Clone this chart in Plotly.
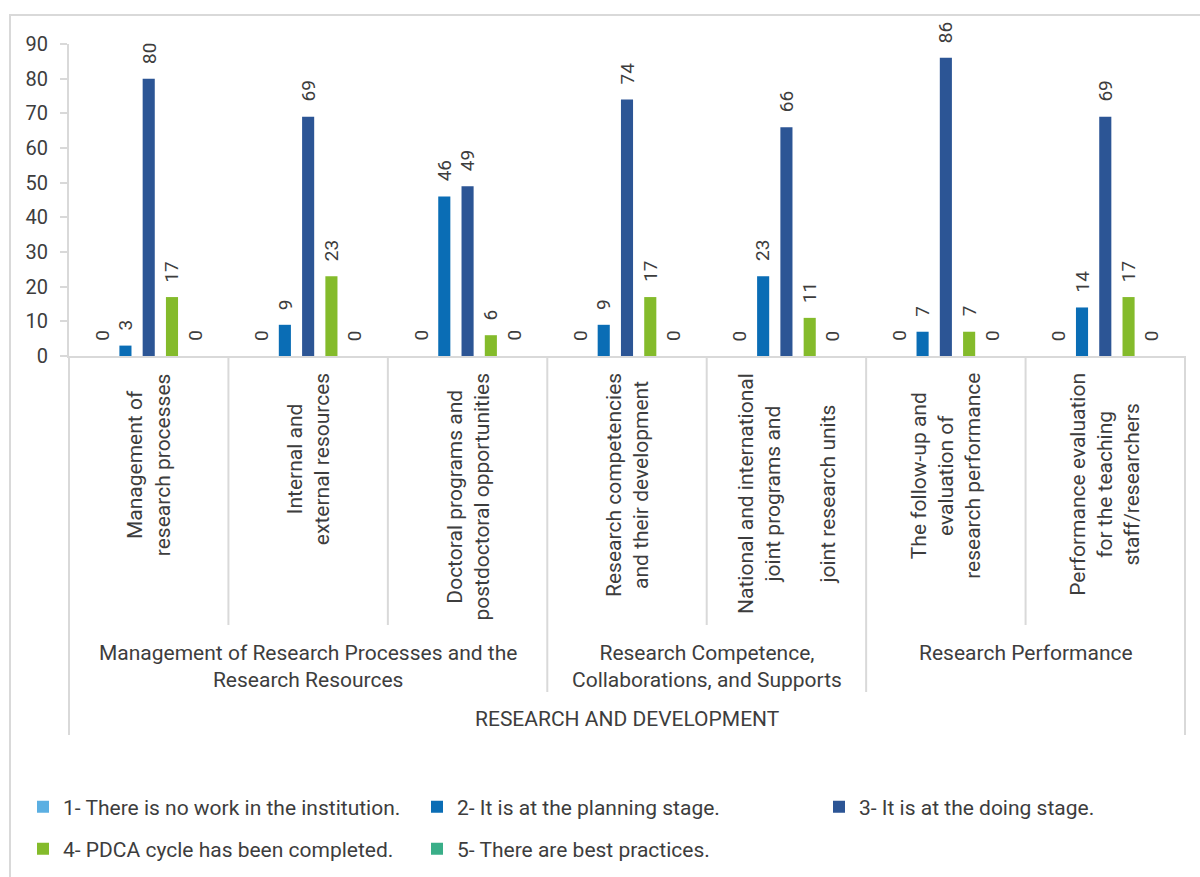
import plotly.graph_objects as go

# ---- data -------------------------------------------------------------
subcategories = [
    "Management of<br>research processes",
    "Internal and<br>external resources",
    "Doctoral programs and<br>postdoctoral opportunities",
    "Research competencies<br>and their development",
    "National and international<br>joint programs and<br><br>joint research units",
    "The follow-up and<br>evaluation of<br>research performance",
    "Performance evaluation<br>for the teaching<br>staff/researchers",
]
groups = [
    "Management of Research Processes and the<br>Research Resources",
    "Research Competence,<br>Collaborations, and Supports",
    "Research Performance",
]
group_sizes = [3, 2, 2]
top_label = "RESEARCH AND DEVELOPMENT"

series_names = [
    "1- There is no work in the institution.",
    "2- It is at the planning stage.",
    "3- It is at the doing stage.",
    "4- PDCA cycle has been completed.",
    "5- There are best practices.",
]
no_work = [0, 0, 0, 0, 0, 0, 0]
planning = [3, 9, 46, 9, 23, 7, 14]
doing = [80, 69, 49, 74, 66, 86, 69]
pdca_done = [17, 23, 6, 17, 11, 7, 17]
best_practices = [0, 0, 0, 0, 0, 0, 0]
series_values = [no_work, planning, doing, pdca_done, best_practices]
colors = ["#5BAFE2", "#0A6DB5", "#2C5595", "#84BB2B", "#39AE88"]

y_ticks = [0, 10, 20, 30, 40, 50, 60, 70, 80, 90]

# ---- layout geometry ---------------------------------------------------
W, H = 1200, 877
L, R, T, B = 69, 15, 44, 521
PW, PH = W - L - R, H - T - B
BASE = H - B


def fx(p):
    return (p - L) / PW


def fy(p):
    return (BASE - p) / PH


FONT = "Roboto"
TXT = "#3d3d3d"
GRID = "#d9d9d9"
BARGAP = 0.27
n_series = len(series_values)
slot = (1 - BARGAP) / n_series
xs = list(range(len(subcategories)))

fig = go.Figure()
legend_ids = ["legend", "legend2", "legend3", "legend4", "legend5"]
for k, (name, vals, col) in enumerate(zip(series_names, series_values, colors)):
    fig.add_trace(go.Bar(
        x=xs, y=vals, name=name, marker_color=col,
        marker_line_width=0, legend=legend_ids[k],
    ))

annotations = []
# value labels above each bar
for k, vals in enumerate(series_values):
    for i, v in enumerate(vals):
        annotations.append(dict(
            x=i + (k - (n_series - 1) / 2) * slot, xref="x",
            y=v, yref="y", yanchor="bottom", xanchor="center",
            yshift=13, text=str(v), textangle=-90, showarrow=False,
            font=dict(family=FONT, size=19, color=TXT),
        ))

# first-level category labels (rotated)
for i, lab in enumerate(subcategories):
    annotations.append(dict(
        x=i, xref="x", y=fy(371), yref="paper", xanchor="center",
        yanchor="top", text=lab, textangle=-90, showarrow=False,
        align="center", font=dict(family=FONT, size=21, color=TXT),
    ))

# second-level group labels
start = 0
for g, size in zip(groups, group_sizes):
    annotations.append(dict(
        x=start + (size - 1) / 2, xref="x", y=fy(639), yref="paper",
        xanchor="center", yanchor="top", text=g, showarrow=False,
        align="center", font=dict(family=FONT, size=21, color=TXT),
    ))
    start += size

# top-level label
annotations.append(dict(
    x=(len(subcategories) - 1) / 2, xref="x", y=fy(719), yref="paper",
    xanchor="center", yanchor="middle", text=top_label, showarrow=False,
    font=dict(family=FONT, size=21, color=TXT),
))

# divider lines of the category hierarchy
shapes = []
n = len(subcategories)
bounds = [0]
for s in group_sizes:
    bounds.append(bounds[-1] + s)
for b in range(n + 1):
    xp = fx(L + b * PW / n)
    if b in (0, n):
        y_end = 735
    elif b in bounds:
        y_end = 692
    else:
        y_end = 625
    shapes.append(dict(type="line", xref="paper", yref="paper",
                       x0=xp, x1=xp, y0=fy(BASE), y1=fy(y_end),
                       line=dict(color=GRID, width=2)))

# outer frame
shapes.append(dict(type="rect", xref="paper", yref="paper",
                   x0=fx(10), x1=fx(1215), y0=fy(15), y1=fy(900),
                   line=dict(color=GRID, width=2), fillcolor="rgba(0,0,0,0)",
                   layer="below"))

legend_pos = [(23, 807), (417, 807), (819, 807), (23, 849), (417, 849)]
legends = {}
for lid, (lx, ly) in zip(legend_ids, legend_pos):
    legends[lid] = dict(
        x=fx(lx), y=fy(ly), xanchor="left", yanchor="middle",
        orientation="h", bgcolor="rgba(0,0,0,0)",
        font=dict(family=FONT, size=21, color=TXT),
        itemwidth=30,
    )

fig.update_layout(
    width=W, height=H,
    margin=dict(l=L, r=R, t=T, b=B, autoexpand=False),
    paper_bgcolor="white", plot_bgcolor="white",
    barmode="group", bargap=BARGAP, bargroupgap=0.48,
    showlegend=True,
    xaxis=dict(type="linear", range=[-0.5, n - 0.5], showticklabels=False,
               showgrid=False, zeroline=False, showline=True,
               linecolor=GRID, linewidth=2, ticks=""),
    yaxis=dict(range=[0, 90], tickvals=y_ticks, showgrid=False,
               zeroline=False, showline=True, linecolor=GRID, linewidth=2,
               ticks="outside", ticklen=7, tickwidth=2, tickcolor=GRID,
               ticklabelstandoff=8,
               tickfont=dict(family=FONT, size=20, color=TXT)),
    annotations=annotations,
    shapes=shapes,
    **legends,
)

fig.write_html("out.html")
